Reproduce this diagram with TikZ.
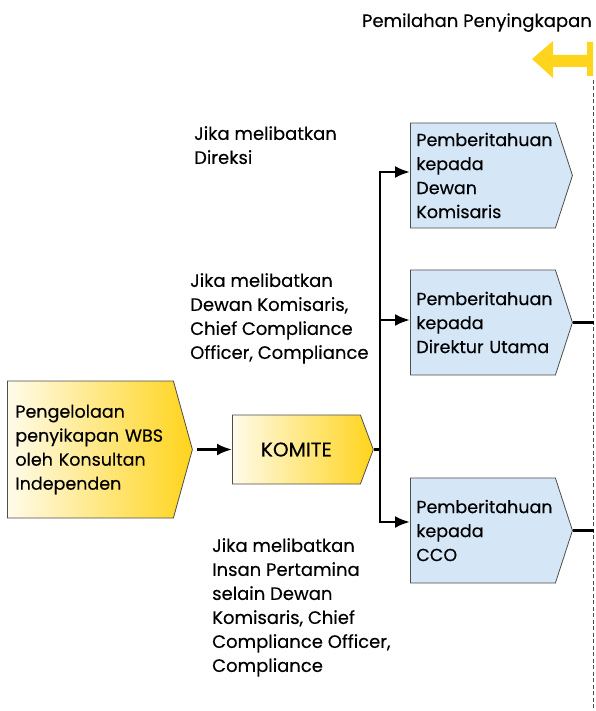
\documentclass[tikz,border=0pt]{standalone}
\usepackage{fontspec}
\setmainfont{Poppins}[FakeBold=0.3]
\usetikzlibrary{positioning, calc}
\usetikzlibrary{shapes.symbols, arrows.meta}

\definecolor{kuning}{HTML}{FFD41C}
\definecolor{krem}{HTML}{FFFBEA}
\definecolor{biru}{HTML}{D5E6F6}
\definecolor{garis}{HTML}{4D4D4D}

\tikzset{
  teks/.style={font=\fontsize{18}{24}\selectfont, inner sep=0pt, align=left, anchor=north west},
  kotak/.style={shape=signal, signal to=east, draw=garis, line width=0.8pt,
    font=\fontsize{17.5}{24}\selectfont, inner ysep=0pt, align=left, anchor=west},
  kuningbox/.style={kotak, left color=krem, right color=kuning},
  birubox/.style={kotak, fill=biru, minimum height=105pt, signal pointer angle=144,
    inner xsep=6pt, text width=133pt},
  panah/.style={line width=2.6pt, -{Latex[length=15pt,width=12pt]}},
  garisan/.style={line width=2.6pt}
}

\begin{document}
\begin{tikzpicture}[x=1pt,y=-1pt]
\useasboundingbox (0,0) rectangle (595,711);

% judul dan penanda kuning
\node[teks, anchor=base east] (judul) at (592,27) {Pemilahan Penyingkapan};
\fill[kuning] (532,59) -- (553,41) -- (553,55) -- (587,55) -- (587,42) -- (593,42)
  -- (593,76) -- (587,76) -- (587,67) -- (553,67) -- (553,78) -- cycle;
\coordinate (batas) at (593.5,80);
\coordinate (dasar) at (593.5,711);
\draw[garis, line width=0.8pt, dash pattern=on 4pt off 2.5pt] (batas) -- (dasar);

% kotak kuning
\node[kuningbox, minimum height=137pt, signal pointer angle=149, inner xsep=8pt,
  text width=150pt] (wbs) at (7,449.5)
  {Pengelolaan\\penyikapan WBS\\oleh Konsultan\\Independen};
\node[kuningbox, minimum height=69pt, signal pointer angle=139, inner xsep=6pt,
  text width=116pt, align=center, font=\fontsize{20}{24}\selectfont] (komite) at (232,449.5) {KOMITE};

% kotak biru
\node[birubox] (dk) at (410,175.5) {Pemberitahuan\\kepada\\Dewan\\Komisaris};
\node[birubox] (du) at (410,322.5) {Pemberitahuan\\kepada\\Direktur Utama};
\node[birubox] (cco) at (410,530.5) {Pemberitahuan\\kepada\\CCO};

% keterangan
\node[teks] (l1) at (194,126) {Jika melibatkan\\Direksi};
\node[teks] (l2) at (190,273) {Jika melibatkan\\Dewan Komisaris,\\Chief Compliance\\Officer, Compliance};
\node[teks] (l3) at (212,538) {Jika melibatkan\\Insan Pertamina\\selain Dewan\\Komisaris, Chief\\Compliance Officer,\\Compliance};

% garis penghubung
\coordinate (atas) at (380,172);
\coordinate (tengah) at (380,320);
\coordinate (bawah) at (380,522);
\draw[panah, shorten <=4pt] (wbs.east) -- (komite.west);
\draw[garisan] (komite.east) -- (komite.east -| bawah);
\draw[panah] (bawah) -- (atas) -- (atas -| dk.west);
\draw[panah] (atas) -- (bawah) -- (bawah -| cco.west);
\draw[panah] (tengah) -- (tengah -| du.west);
\draw[line width=2.2pt] (du.east) -- (du.east -| batas);
\draw[line width=2.2pt] (cco.east) -- (cco.east -| batas);
\end{tikzpicture}
\end{document}
